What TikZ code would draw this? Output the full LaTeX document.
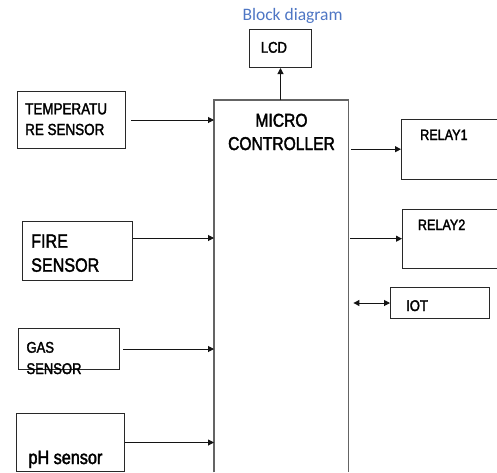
\documentclass[tikz,border=0pt]{standalone}
\usepackage{fontspec}
\setmainfont{Liberation Sans}
\newfontfamily\nf[FakeStretch=0.84,FakeBold=2]{Liberation Sans}
\newfontfamily\tf{Carlito}
\usetikzlibrary{arrows.meta}
\definecolor{titleblue}{RGB}{78,118,196}
\definecolor{linec}{RGB}{20,20,20}
\definecolor{boxc}{RGB}{40,40,40}
\definecolor{mcc}{RGB}{100,100,100}
\newcommand\llines[2]{\vtop{\baselineskip=#1\relax\lineskiplimit=-30pt\halign{##\hfil\cr#2\crcr}}}
\newcommand\clines[2]{\vtop{\baselineskip=#1\relax\lineskiplimit=-30pt\halign{\hfil##\hfil\cr#2\crcr}}}
\tikzset{
  box/.style={draw=boxc, line width=1pt, inner sep=0pt, anchor=north west},
  openbox/.style={inner sep=0pt, anchor=north west},
  txt/.style={inner sep=0pt, text=black, anchor=base west},
  arr/.style={-{Triangle[length=6pt,width=6pt]}, line width=1pt, draw=linec},
  arrb/.style={{Triangle[length=6pt,width=6pt]}-{Triangle[length=6pt,width=6pt]}, line width=1pt, draw=linec},
}
\begin{document}
\begin{tikzpicture}[x=1pt,y=-1pt]
\useasboundingbox (0,0) rectangle (497,472);

% title
\node[txt, text=titleblue, font=\tf\fontsize{17.5}{20}\selectfont] (title) at (242.3,20) {Block diagram};

% boxes
\node[box, minimum width=62pt, minimum height=38pt] (lcd) at (249,29) {};
\node[openbox, minimum width=134pt, minimum height=372pt] (mc) at (214,100) {};
\draw[draw=mcc, line width=1.1pt] (mc.south west) -- (mc.north west) -- (mc.north east) -- (mc.south east);

\node[box, minimum width=108pt, minimum height=57pt] (temp) at (17,91) {};
\node[box, minimum width=109.5pt, minimum height=59pt] (fire) at (22,221) {};
\node[box, minimum width=101pt, minimum height=41pt] (gas) at (18,328) {};
\node[box, minimum width=108pt, minimum height=58pt] (ph) at (16,413) {};

\node[openbox, minimum width=96pt, minimum height=60pt] (relay1) at (401,119) {};
\draw[draw=boxc, line width=1pt] (relay1.north east) -- (relay1.north west) -- (relay1.south west) -- (relay1.south east);
\node[openbox, minimum width=95pt, minimum height=59pt] (relay2) at (402,209) {};
\draw[draw=boxc, line width=1pt] (relay2.north east) -- (relay2.north west) -- (relay2.south west) -- (relay2.south east);
\node[box, minimum width=99pt, minimum height=31pt] (iot) at (390,287) {};

% texts
\node[txt, font=\nf\fontsize{15.5}{18}\selectfont] (lcdt) at (260.7,52.7) {LCD};
\node[txt, anchor=base, font=\nf\fontsize{18.6}{22}\selectfont] (mct) at (281.5,126.7) {\clines{23.3pt}{MICRO\cr CONTROLLER}};
\node[txt, font=\nf\fontsize{16}{20}\selectfont] (tempt) at (25,114.3) {\llines{20.7pt}{TEMPERATU\cr RE SENSOR}};
\node[txt, font=\nf\fontsize{19.2}{23}\selectfont] (firet) at (31,247.7) {\llines{24pt}{FIRE\cr SENSOR}};
\node[txt, font=\nf\fontsize{15.5}{19}\selectfont] (gast) at (26.3,352.7) {\llines{21.3pt}{GAS\cr SENSOR}};
\node[txt, font=\nf\fontsize{19.3}{23}\selectfont] (pht) at (28.3,464) {pH sensor};
\node[txt, font=\nf\fontsize{15}{18}\selectfont] (relay1t) at (420,140) {RELAY1};
\node[txt, font=\nf\fontsize{15}{18}\selectfont] (relay2t) at (417.7,230) {RELAY2};
\node[txt, font=\nf\fontsize{15.5}{18}\selectfont] (iott) at (406,311) {IOT};

% connectors
\draw[arr] ([xshift=5pt]temp.east) -- (temp.east -| mc.west);
\draw[arr] (fire.east |- 0,238) -- (mc.west |- 0,238);
\draw[arr] ([xshift=3pt]gas.east) -- (gas.east -| mc.west);
\draw[arr] (ph.east) -- (ph.east -| mc.west);
\draw[arr] ([xshift=3pt]relay1.west -| mc.east) -- (relay1.west);
\draw[arr] ([xshift=2pt]relay2.west -| mc.east) -- (relay2.west);
\draw[arrb] ([xshift=5pt]iot.west -| mc.east) -- (iot.west);
\draw[arr] (mc.north -| lcd.south) -- (lcd.south);
\end{tikzpicture}
\end{document}
